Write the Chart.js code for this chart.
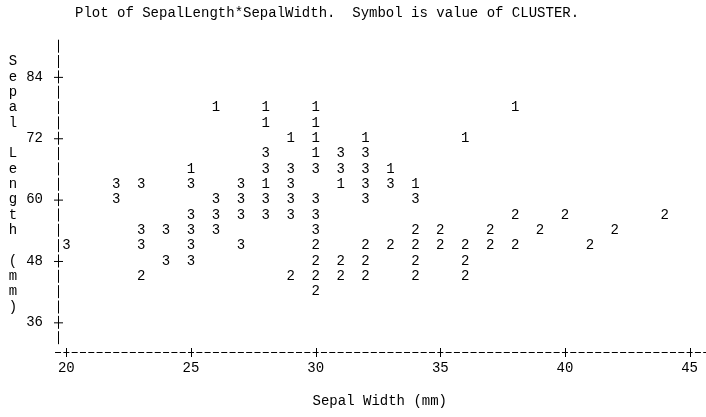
<!DOCTYPE html>
<html>
<head>
<meta charset="utf-8">
<script src="https://cdn.jsdelivr.net/npm/chart.js@4.4.0/dist/chart.umd.min.js"></script>
<style>
    body { margin: 0; background: #fff; }
    canvas { display: block; }
</style>
</head>
<body>
<canvas id="plot" width="706" height="417"></canvas>
<script>
// symbol = cluster number, x = sepal width (mm), y = sepal length (mm, printer row)
const clusterSymbols = ['1', '2', '3'];

const cluster1Width  = [26, 28, 30, 38, 28, 30, 29, 30, 32, 36, 30, 25, 33, 28, 31, 34];
const cluster1Length = [78, 78, 78, 78, 75, 75, 72, 72, 72, 72, 69, 66, 66, 63, 63, 63];

const cluster2Width  = [38, 40, 44, 34, 35, 37, 39, 42, 30, 32, 33, 34, 35, 36, 37, 38, 41,
                        30, 31, 32, 34, 36, 23, 29, 30, 31, 32, 34, 36, 30];
const cluster2Length = [57, 57, 57, 54, 54, 54, 54, 54, 51, 51, 51, 51, 51, 51, 51, 51, 51,
                        48, 48, 48, 48, 48, 45, 45, 45, 45, 45, 45, 45, 42];

const cluster3Width  = [28, 31, 32, 28, 29, 30, 31, 32, 22, 23, 25, 27, 29, 32, 33,
                        22, 26, 27, 28, 29, 30, 32, 34, 25, 26, 27, 28, 29, 30,
                        23, 24, 25, 26, 30, 20, 23, 25, 27, 24, 25];
const cluster3Length = [69, 69, 69, 66, 66, 66, 66, 66, 63, 63, 63, 63, 63, 63, 63,
                        60, 60, 60, 60, 60, 60, 60, 60, 57, 57, 57, 57, 57, 57,
                        54, 54, 54, 54, 54, 51, 51, 51, 51, 48, 48];

const xTicks = [20, 25, 30, 35, 40, 45];
const yTicks = [36, 48, 60, 72, 84];

const plotTitle = 'Plot of SepalLength*SepalWidth.  Symbol is value of CLUSTER.';
const xTitle = 'Sepal Width (mm)';
const yTitle = 'Sepal Length (mm)';

const FONT = "'Liberation Mono', 'DejaVu Sans Mono', monospace";

function toPoints(xs, ys) {
    return xs.map((x, i) => ({ x: x, y: ys[i] }));
}

// line-printer look: '|' and '-' axis, '+' at ticks, digits as symbols
const printerText = {
    id: 'printerText',
    afterDatasetsDraw(chart) {
        const ctx = chart.ctx;
        const xs = chart.scales.x, ys = chart.scales.y;
        const left = chart.chartArea.left, bottom = chart.chartArea.bottom;
        ctx.save();
        ctx.fillStyle = '#000';
        ctx.strokeStyle = '#000';
        ctx.lineWidth = 1;

        // vertical axis, one bar per printer row (3 mm)
        ctx.beginPath();
        for (let v = 33; v <= 90; v += 3) {
            const y = ys.getPixelForValue(v);
            ctx.moveTo(left + 0.5, y - 6.5);
            ctx.lineTo(left + 0.5, y + 6.5);
            if (yTicks.includes(v)) {
                ctx.moveTo(left - 4, y + 0.5);
                ctx.lineTo(left + 5, y + 0.5);
            }
        }
        // horizontal axis, one dash per printer column (1/3 mm)
        const step = (xs.getPixelForValue(1) - xs.getPixelForValue(0)) / 3;
        for (let px = xs.getPixelForValue(20) - step; px < chart.width + 3; px += step) {
            ctx.moveTo(px - 3, bottom + 0.5);
            ctx.lineTo(px + 3, bottom + 0.5);
        }
        xTicks.forEach(v => {
            const x = Math.round(xs.getPixelForValue(v)) + 0.5;
            ctx.moveTo(x, bottom - 4);
            ctx.lineTo(x, bottom + 5);
        });
        ctx.stroke();

        ctx.font = '14px ' + FONT;
        ctx.textAlign = 'center';
        ctx.textBaseline = 'middle';
        chart.data.datasets.forEach((ds, i) => {
            chart.getDatasetMeta(i).data.forEach(pt => {
                ctx.fillText(ds.label, pt.x, pt.y);
            });
        });

        [...yTitle].forEach((ch, i) => {
            ctx.fillText(ch, 13, ys.getPixelForValue(87 - 3 * i));
        });

        ctx.textAlign = 'left';
        ctx.fillText(plotTitle, 75, 13);
        ctx.restore();
    }
};

new Chart(document.getElementById('plot'), {
    type: 'scatter',
    data: {
        datasets: [
            { label: clusterSymbols[0], data: toPoints(cluster1Width, cluster1Length) },
            { label: clusterSymbols[1], data: toPoints(cluster2Width, cluster2Length) },
            { label: clusterSymbols[2], data: toPoints(cluster3Width, cluster3Length) }
        ]
    },
    options: {
        responsive: false,
        animation: false,
        events: [],
        elements: { point: { radius: 0, hoverRadius: 0 } },
        layout: { padding: { top: 37, left: 0, right: 0, bottom: 0 } },
        plugins: {
            legend: { display: false },
            tooltip: { enabled: false },
            title: { display: false }
        },
        scales: {
            x: {
                type: 'linear',
                min: 19.665,
                max: 45.48,
                afterBuildTicks: scale => { scale.ticks = xTicks.map(v => ({ value: v })); },
                afterFit: scale => { scale.height = 65; },
                border: { display: false },
                grid: { display: false, drawTicks: false },
                ticks: {
                    color: '#000',
                    padding: 8,
                    maxRotation: 0,
                    font: { family: FONT, size: 14 }
                },
                title: {
                    display: true,
                    text: xTitle,
                    color: '#000',
                    font: { family: FONT, size: 14 },
                    padding: { top: 0, bottom: 7 }
                }
            },
            y: {
                type: 'linear',
                min: 30.2,
                max: 91.8,
                afterBuildTicks: scale => { scale.ticks = yTicks.map(v => ({ value: v })); },
                afterFit: scale => { scale.width = 58; },
                border: { display: false },
                grid: { display: false, drawTicks: false },
                ticks: {
                    color: '#000',
                    padding: 15,
                    font: { family: FONT, size: 14 }
                }
            }
        }
    },
    plugins: [printerText]
});
</script>
</body>
</html>
